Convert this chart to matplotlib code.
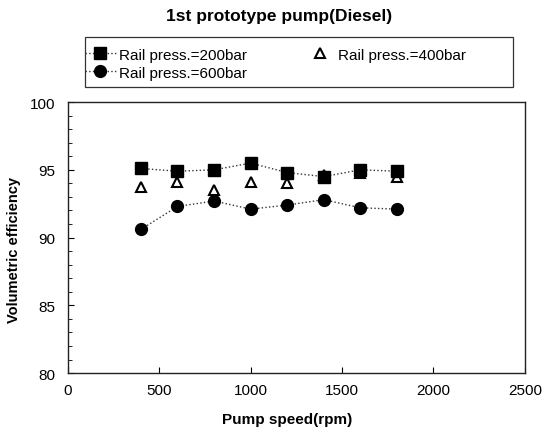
import matplotlib
matplotlib.use("Agg")
import matplotlib.pyplot as plt
from matplotlib.patches import Rectangle
from matplotlib.ticker import MultipleLocator

plt.rcParams['font.family'] = ['Liberation Sans', 'DejaVu Sans']

# pump speed (rpm) and volumetric efficiency (%)
speed = [400, 600, 800, 1000, 1200, 1400, 1600, 1800]
eff_200bar = [95.1, 94.9, 95.0, 95.5, 94.8, 94.5, 95.0, 94.9]
eff_400bar = [93.7, 94.1, 93.5, 94.1, 94.0, 94.6, 94.8, 94.5]
eff_600bar = [90.6, 92.3, 92.7, 92.1, 92.4, 92.8, 92.2, 92.1]

labels = ["Rail press.=200bar", "Rail press.=400bar", "Rail press.=600bar"]


def main():
    fig = plt.figure(figsize=(5.43, 4.35), dpi=100)
    ax = fig.add_axes([0.1247, 0.140, 0.842, 0.623])

    l200, = ax.plot(speed, eff_200bar, linestyle=':', color='#333333', linewidth=1.0,
                    marker='s', markersize=8.5, markerfacecolor='black', markeredgecolor='black',
                    label=labels[0], zorder=3)
    l400, = ax.plot(speed, eff_400bar, linestyle='none',
                    marker='^', markersize=7.5, markerfacecolor='white', markeredgecolor='black',
                    markeredgewidth=1.5, label=labels[1], zorder=2)
    l600, = ax.plot(speed, eff_600bar, linestyle=':', color='#333333', linewidth=1.0,
                    marker='o', markersize=8.5, markerfacecolor='black', markeredgecolor='black',
                    label=labels[2], zorder=3)

    ax.set_xlim(0, 2500)
    ax.set_ylim(80, 100)
    ax.xaxis.set_major_locator(MultipleLocator(500))
    ax.yaxis.set_major_locator(MultipleLocator(5))
    ax.yaxis.set_minor_locator(MultipleLocator(1))
    ax.tick_params(axis='both', which='both', direction='in', labelsize=11)
    ax.tick_params(axis='y', which='major', length=4, pad=9)
    ax.tick_params(axis='y', which='minor', length=3)
    ax.tick_params(axis='x', which='major', length=4, pad=7)
    for sp in ax.spines.values():
        sp.set_linewidth(1.0)
        sp.set_color('#222222')

    ax.set_xlabel("Pump speed(rpm)", fontsize=11, fontweight='bold')
    ax.set_ylabel("Volumetric efficiency", fontsize=10.5, fontweight='bold')
    ax.xaxis.set_label_coords(0.48, -0.145)
    ax.yaxis.set_label_coords(-0.102, 0.457)

    fig.text(0.514, 0.963, "1st prototype pump(Diesel)", ha='center', va='center',
             fontsize=12.5, fontweight='bold')

    # legend box drawn separately so the entries can sit where they are in the original
    fig.patches.append(Rectangle((0.1565, 0.7977), 0.7882, 0.115, transform=fig.transFigure,
                                 fill=False, edgecolor='#333333', linewidth=0.9))
    fig.legend([l200, l600, l400], [labels[0], labels[2], labels[1]],
               loc='upper left', bbox_to_anchor=(0.1565, 0.888),
               ncol=2, fontsize=11, frameon=False, numpoints=1,
               handlelength=2.0, handletextpad=0.2, borderaxespad=0.0, borderpad=0.0,
               labelspacing=0.25, columnspacing=3.8)

    plt.savefig("out.png", dpi=100)


if __name__ == '__main__':
    main()
